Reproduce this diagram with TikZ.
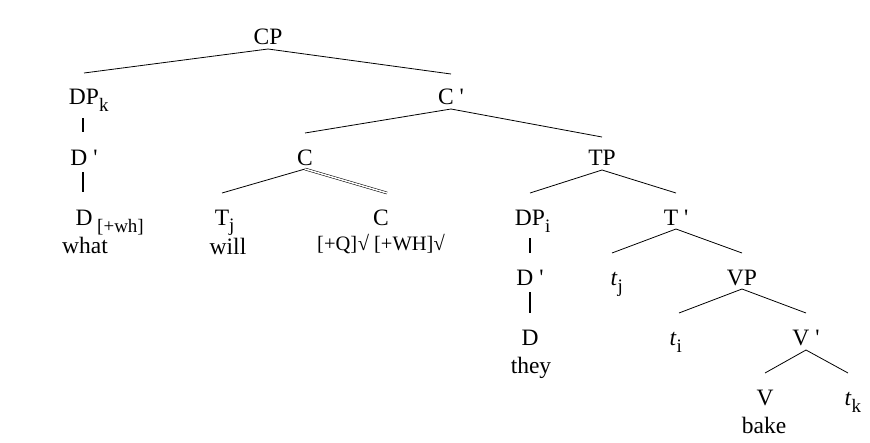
\documentclass[tikz,border=0pt]{standalone}
\usepackage{fontspec}
\setmainfont{Liberation Serif}
% lowered index set in a smaller size, kept out of the label's width
\newcommand\lsub[2][7.5pt]{\rlap{\raisebox{-#1}{\fontsize{19}{19}\selectfont #2}}}
\newcommand\xbar{\ \textquotesingle}
\begin{document}
\begin{tikzpicture}[x=1pt,y=-1pt]
\tikzset{
  lbl/.style={inner sep=0pt, anchor=base, font=\fontsize{23.5}{23.5}\selectfont},
  feat/.style={inner sep=0pt, anchor=base, font=\fontsize{20.5}{20.5}\selectfont},
  branch/.style={line width=0.8pt},
  unary/.style={line width=1.8pt},
  dbl/.style={double, line width=0.55pt, double distance=1.5pt}
}
\useasboundingbox (0,0) rectangle (870,442);

% labels
\node[lbl] (cp)   at (268,44)  {CP};
\node[lbl] (dpk)  at (84,104)  {DP\lsub{k}};
\node[lbl] (cbar) at (451,104) {C\xbar};
\node[lbl] (dbar1) at (84,165) {D\xbar};
\node[lbl] (c)    at (305,165) {C};
\node[lbl] (tp)   at (602,165) {TP};
\node[lbl] (d1)   at (84,225)  {D\lsub{ [+wh]}};
\node[lbl] (tj)   at (222,225) {T\lsub[6pt]{j}};
\node[lbl] (c2)   at (381,225) {C};
\node[lbl] (dpi)  at (530,225) {DP\lsub{i}};
\node[lbl] (tbar) at (676,225) {T\xbar};
\node[lbl] (dbar2) at (530,285) {D\xbar};
\node[lbl] (trj)  at (614,285) {\textit{t}\lsub{j}};
\node[lbl] (vp)   at (742,285) {VP};
\node[lbl] (d2)   at (530,345) {D};
\node[lbl] (tri)  at (673,345) {\textit{t}\lsub{i}};
\node[lbl] (vbar) at (806,345) {V\xbar};
\node[lbl] (v)    at (765,405) {V};
\node[lbl] (trk)  at (848,405) {\textit{t}\lsub{k}};

% lexical items
\node[lbl]  (what) at (85,253)  {what};
\node[lbl]  (will) at (228,254) {will};
\node[feat] (feats) at (381,250) {[+Q]\kern0.5pt√ [+WH]√};
\node[lbl]  (they) at (531,373) {they};
\node[lbl]  (bake) at (764,433) {bake};

% branches
\draw[branch] ([yshift=31pt]dpk.base) -- ([yshift=-5pt]cp.base) -- ([yshift=30pt]cbar.base);
\draw[branch] ([yshift=32pt]c.base) -- ([yshift=-5pt]cbar.base) -- ([yshift=28pt]tp.base);
\draw[branch] ([yshift=32pt]tj.base) -- ([yshift=-4pt]c.base);
\draw[dbl] ([yshift=-4pt]c.base) -- ([yshift=32pt,xshift=6pt]c2.base);
\draw[branch] ([yshift=32pt]dpi.base) -- ([yshift=-5pt]tp.base) -- ([yshift=32pt]tbar.base);
\draw[branch] ([yshift=32pt,xshift=-2pt]trj.base) -- ([yshift=-4pt]tbar.base) -- ([yshift=32pt]vp.base);
\draw[branch] ([yshift=32pt,xshift=6pt]tri.base) -- ([yshift=-4pt]vp.base) -- ([yshift=32pt]vbar.base);
\draw[branch] ([yshift=32pt]v.base) -- ([yshift=-5pt]vbar.base) -- ([yshift=32pt]trk.base);

% non-branching projections
\draw[unary] ([yshift=-14pt,xshift=-1pt]dpk.base) -- ([yshift=33pt,xshift=-1pt]dbar1.base);
\draw[unary] ([yshift=-7pt,xshift=-1pt]dbar1.base) -- ([yshift=33pt,xshift=-1pt]d1.base);
\draw[unary] ([yshift=-13pt]dpi.base) -- ([yshift=32pt]dbar2.base);
\draw[unary] ([yshift=-7pt]dbar2.base) -- ([yshift=32pt]d2.base);
\end{tikzpicture}
\end{document}
